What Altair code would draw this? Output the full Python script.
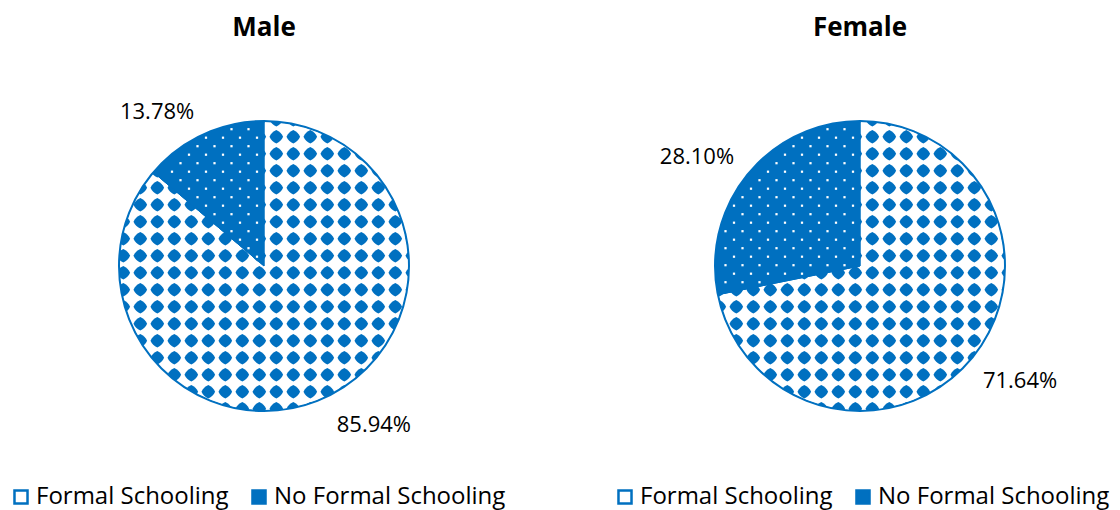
import math

import altair as alt
import numpy as np
import pandas as pd

# Share of respondents by schooling, per sex (percent)
groups = ["Male", "Female"]
categories = ["Formal Schooling", "No Formal Schooling"]
male_share = [85.94, 13.78]
female_share = [71.64, 28.10]

BLUE = "#0070C0"
FONT = "Open Sans"
CENTER_X = {"Male": 264, "Female": 860}
CENTER_Y = 266
RADIUS = 145
STEP = 17  # pattern repeat, px

shares = {"Male": male_share, "Female": female_share}

pie_frames = {
    g: pd.DataFrame(
        {
            "group": g,
            "category": categories,
            "share": shares[g],
            "label": [f"{v:.2f}%" for v in shares[g]],
            "idx": list(range(len(categories))),
        }
    )
    for g in groups
}


def diamond_texture(cx):
    """Centres of the diamond pattern that fills the formal-schooling slice."""
    offs = np.arange(-10, 11) * STEP
    gx, gy = np.meshgrid(12.3 + offs, 6.7 + offs)
    keep = np.hypot(gx, gy) <= RADIUS + 8
    return pd.DataFrame({"px": cx + gx[keep], "py": CENTER_Y + gy[keep]})


def dot_texture(cx, formal_frac):
    """Staggered white dots that fill the no-formal-schooling slice."""
    start = 2 * math.pi * formal_frac
    px, py = [], []
    for k in range(-22, 52):
        dy = -111.3 + k * STEP / 2
        shift = (k % 2) * STEP / 2
        for m in range(-20, 21):
            dx = -75 + shift + m * STEP
            r = math.hypot(dx, dy)
            if r < 3 or r > RADIUS - 3:
                continue
            a = math.atan2(dx, -dy) % (2 * math.pi)
            margin = math.asin(min(1.0, 2.5 / r))
            if a - start > margin and 2 * math.pi - a > margin:
                px.append(cx + dx)
                py.append(CENTER_Y + dy)
    return pd.DataFrame({"px": px, "py": py})


xs = alt.Scale(domain=[0, 1120], nice=False, zero=False)
ys = alt.Scale(domain=[0, 510], nice=False, zero=False, reverse=True)
color_scale = alt.Scale(domain=categories, range=["#ffffff", BLUE])
theta = alt.Theta("share:Q", stack="normalize")
order = alt.Order("idx:Q")

# rounded diamond used as the pattern motif
DIAMOND = "M0,-1Q0.7,-0.7,1,0Q0.7,0.7,0,1Q-0.7,0.7,-1,0Q-0.7,-0.7,0,-1Z"

legend_x = {"Male": 9, "Female": 613}
# per-label nudges away from the slice midpoint
label_nudge = {
    ("Male", "Formal Schooling"): (30, -13),
    ("Male", "No Formal Schooling"): (-27, 18),
    ("Female", "Formal Schooling"): (13, -5),
    ("Female", "No Formal Schooling"): (-16, 11),
}

layers = []
for g in groups:
    cx = CENTER_X[g]
    df = pie_frames[g]
    base = alt.Chart(df)
    pos = dict(x=alt.value(cx), y=alt.value(CENTER_Y))
    formal_frac = shares[g][0] / sum(shares[g])
    one = pd.DataFrame({"group": [g]})

    # white base pie, carries the legend
    layers.append(
        base.mark_arc(outerRadius=RADIUS, stroke=BLUE, strokeWidth=1).encode(
            theta=theta,
            order=order,
            color=alt.Color(
                "category:N",
                scale=color_scale,
                legend=alt.Legend(
                    orient="none",
                    legendX=legend_x[g],
                    legendY=485,
                    direction="horizontal",
                    title=None,
                    symbolType="square",
                    symbolSize=170,
                    symbolStrokeColor=BLUE,
                    symbolStrokeWidth=2.5,
                    labelFont=FONT,
                    labelFontSize=24,
                    labelColor="#000000",
                    labelLimit=400,
                    labelOffset=3,
                    columnPadding=18,
                    padding=0,
                ),
            ),
            **pos,
        )
    )

    # diamond pattern
    layers.append(
        alt.Chart(diamond_texture(cx))
        .mark_point(shape=DIAMOND, size=185, filled=True, color=BLUE, opacity=1, strokeWidth=0)
        .encode(x=alt.X("px:Q", scale=xs, axis=None), y=alt.Y("py:Q", scale=ys, axis=None))
    )

    # solid blue no-formal slice on top of the pattern
    layers.append(
        base.mark_arc(outerRadius=RADIUS).encode(
            theta=theta,
            order=order,
            color=alt.Color("category:N", scale=color_scale, legend=None),
            fillOpacity=alt.condition(
                alt.datum.category == "No Formal Schooling", alt.value(1), alt.value(0)
            ),
            **pos,
        )
    )

    # white dots inside the blue slice
    layers.append(
        alt.Chart(dot_texture(cx, formal_frac))
        .mark_square(size=5, color="#ffffff", opacity=1)
        .encode(x=alt.X("px:Q", scale=xs, axis=None), y=alt.Y("py:Q", scale=ys, axis=None))
    )

    # white ring trims the pattern at the rim, then the outline
    layers.append(
        alt.Chart(one)
        .mark_arc(innerRadius=RADIUS, outerRadius=RADIUS + 16, theta=0, theta2=2 * math.pi, color="#ffffff")
        .encode(**pos)
    )
    layers.append(
        alt.Chart(one)
        .mark_arc(
            innerRadius=0,
            outerRadius=RADIUS,
            theta=0,
            theta2=2 * math.pi,
            fillOpacity=0,
            stroke=BLUE,
            strokeWidth=2,
        )
        .encode(**pos)
    )

    # percentage labels
    for cat in categories:
        ndx, ndy = label_nudge[(g, cat)]
        layers.append(
            base.mark_text(
                radius=190, font=FONT, fontSize=22, color="#000000", dx=ndx, dy=ndy
            ).encode(
                theta=theta,
                order=order,
                text=alt.condition(alt.datum.category == cat, alt.Text("label:N"), alt.value("")),
                **pos,
            )
        )

    # panel title
    layers.append(
        alt.Chart(one)
        .mark_text(font=FONT, fontSize=26, fontWeight="bold", color="#000000")
        .encode(text="group:N", x=alt.value(cx), y=alt.value(28))
    )

chart = (
    alt.layer(*layers)
    .resolve_scale(color="independent")
    .properties(width=1120, height=510, padding=0, autosize=alt.AutoSizeParams(type="none"))
    .configure_view(strokeWidth=0)
)

chart.save("out.html", embed_options={"renderer": "svg", "actions": False})
